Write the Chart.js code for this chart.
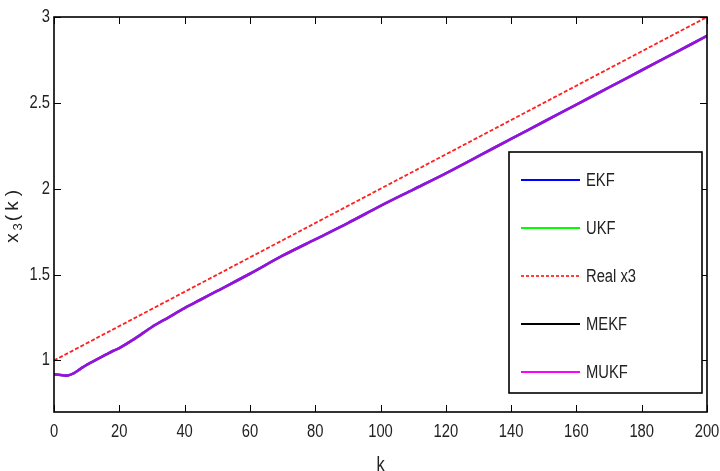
<!DOCTYPE html>
<html>
<head>
<meta charset="utf-8">
<script src="https://cdn.jsdelivr.net/npm/chart.js@4.4.1/dist/chart.umd.min.js"></script>
<style>
  html, body { margin: 0; padding: 0; background: #fff; }
  #wrap { width: 720px; height: 471px; }
</style>
</head>
<body>
<div id="wrap"><canvas id="graficoX3" width="720" height="471"></canvas></div>
<script>
// dados
const kEst = [0, 2, 4, 6, 8, 10, 12, 14, 16, 18, 20, 25, 30, 35, 40, 45, 50, 60, 70, 80, 90, 100,
  110, 120, 130, 140, 150, 160, 170, 180, 190, 200];
const xEKF = [0.92, 0.915, 0.912, 0.925, 0.95, 0.975, 0.995, 1.015, 1.035, 1.055, 1.072, 1.13, 1.195,
  1.25, 1.305, 1.355, 1.405, 1.505, 1.61, 1.705, 1.80, 1.90, 1.995, 2.09, 2.19, 2.29, 2.39, 2.49,
  2.59, 2.69, 2.79, 2.89];
const xUKF = xEKF.slice();
const xMEKF = xEKF.slice();
const xMUKF = xEKF.slice();
const kReal = [0, 200];
const xReal = [1.0, 3.0];
const xTicks = [0, 20, 40, 60, 80, 100, 120, 140, 160, 180, 200];
const yTicks = [1, 1.5, 2, 2.5, 3];

const fonte = '"Liberation Sans", Arial, sans-serif';
const estreito = 0.82; // fonte estreita tipo Helvetica Narrow

function pontos(ks, vs) {
  return ks.map((k, i) => ({ x: k, y: vs[i] }));
}

// escreve texto com largura reduzida
function texto(ctx, str, x, y, tam, align) {
  ctx.save();
  ctx.translate(x, y);
  ctx.scale(estreito, 1);
  ctx.font = tam + "px " + fonte;
  ctx.textAlign = align;
  ctx.fillText(str, 0, 0);
  ctx.restore();
}

// ordem da legenda (estilo MATLAB)
const legenda = [
  { nome: "EKF", cor: "#0000ff", dash: [] },
  { nome: "UKF", cor: "#00ff00", dash: [] },
  { nome: "Real x3", cor: "#ff0000", dash: [3, 2] },
  { nome: "MEKF", cor: "#000000", dash: [] },
  { nome: "MUKF", cor: "#ff00ff", dash: [] },
];

const molduraPlugin = {
  id: "moldura",
  afterDraw(chart) {
    const ctx = chart.ctx;
    const a = chart.chartArea;
    const sx = chart.scales.x, sy = chart.scales.y;
    ctx.save();
    ctx.strokeStyle = "#000";
    ctx.lineWidth = 1.6;
    ctx.setLineDash([]);
    ctx.strokeRect(a.left, a.top, a.right - a.left, a.bottom - a.top);
    // ticks para dentro
    ctx.lineWidth = 1;
    const tl = 7;
    ctx.beginPath();
    xTicks.forEach(v => {
      const p = Math.round(sx.getPixelForValue(v)) + 0.5;
      ctx.moveTo(p, a.bottom); ctx.lineTo(p, a.bottom - tl);
      ctx.moveTo(p, a.top); ctx.lineTo(p, a.top + tl);
    });
    yTicks.forEach(v => {
      const p = Math.round(sy.getPixelForValue(v)) + 0.5;
      ctx.moveTo(a.left, p); ctx.lineTo(a.left + tl, p);
      ctx.moveTo(a.right, p); ctx.lineTo(a.right - tl, p);
    });
    ctx.stroke();

    // rotulos dos ticks
    ctx.fillStyle = "#222";
    ctx.textBaseline = "middle";
    xTicks.forEach(v => texto(ctx, String(v), sx.getPixelForValue(v), 432, 18, "center"));
    yTicks.forEach(v => texto(ctx, String(v), a.left - 4, sy.getPixelForValue(v), 18, "right"));

    // legenda
    const lx = 509, ly = 152, lw = 193, lh = 241;
    ctx.fillStyle = "#fff";
    ctx.fillRect(lx, ly, lw, lh);
    ctx.strokeStyle = "#000";
    ctx.lineWidth = 1.6;
    ctx.strokeRect(lx, ly, lw, lh);
    legenda.forEach((item, i) => {
      const y = ly + 28 + i * 48;
      ctx.beginPath();
      ctx.strokeStyle = item.cor;
      ctx.lineWidth = item.dash.length ? 1.6 : 2;
      ctx.setLineDash(item.dash);
      ctx.moveTo(521, y); ctx.lineTo(580, y);
      ctx.stroke();
      ctx.setLineDash([]);
      ctx.fillStyle = "#222";
      texto(ctx, item.nome, 586, y + 1, 18, "left");
    });

    // titulo eixo x
    ctx.fillStyle = "#222";
    texto(ctx, "k", (a.left + a.right) / 2, 465, 20, "center");

    // titulo eixo y: x3(k), letras espacadas como no MATLAB
    ctx.translate(18, 0);
    ctx.rotate(-Math.PI / 2);
    ctx.textAlign = "center";
    ctx.textBaseline = "alphabetic";
    const letras = [
      { c: "x", y: 238, tam: 19, d: 0 },
      { c: "3", y: 227, tam: 13, d: 4 },
      { c: "(", y: 218, tam: 19, d: 0 },
      { c: "k", y: 206, tam: 19, d: 0 },
      { c: ")", y: 193, tam: 19, d: 0 },
    ];
    letras.forEach(l => {
      ctx.font = l.tam + "px " + fonte;
      ctx.fillText(l.c, -l.y, l.d);
    });
    ctx.restore();
  }
};

new Chart(document.getElementById("graficoX3"), {
  type: "line",
  data: {
    datasets: [
      { label: "MUKF", data: pontos(kEst, xMUKF), borderColor: "rgba(255,0,255,0.6)", borderWidth: 2.6 },
      { label: "MEKF", data: pontos(kEst, xMEKF), borderColor: "rgba(0,0,0,0.2)", borderWidth: 2.6 },
      { label: "Real x3", data: pontos(kReal, xReal), borderColor: "#ff2020", borderWidth: 1.8, borderDash: [4, 2] },
      { label: "UKF", data: pontos(kEst, xUKF), borderColor: "rgba(0,255,0,0.2)", borderWidth: 2.6 },
      { label: "EKF", data: pontos(kEst, xEKF), borderColor: "#0000ff", borderWidth: 2.6 },
    ],
  },
  options: {
    responsive: false,
    animation: false,
    devicePixelRatio: 1,
    elements: { point: { radius: 0 }, line: { tension: 0.3, fill: false } },
    layout: { padding: { top: 17, right: 13, left: 0, bottom: 0 } },
    plugins: { legend: { display: false }, tooltip: { enabled: false } },
    scales: {
      x: {
        type: "linear",
        min: 0,
        max: 200,
        afterBuildTicks: (s) => { s.ticks = xTicks.map(v => ({ value: v })); },
        afterFit: (s) => { s.height = 59; s.paddingLeft = 0; s.paddingRight = 0; },
        grid: { display: false, drawTicks: false },
        border: { display: false },
        ticks: { display: false },
      },
      y: {
        type: "linear",
        min: 0.7,
        max: 3,
        afterBuildTicks: (s) => { s.ticks = yTicks.map(v => ({ value: v })); },
        afterFit: (s) => { s.width = 54; s.paddingTop = 0; s.paddingBottom = 0; },
        grid: { display: false, drawTicks: false },
        border: { display: false },
        ticks: { display: false },
      },
    },
  },
  plugins: [molduraPlugin],
});
</script>
</body>
</html>
